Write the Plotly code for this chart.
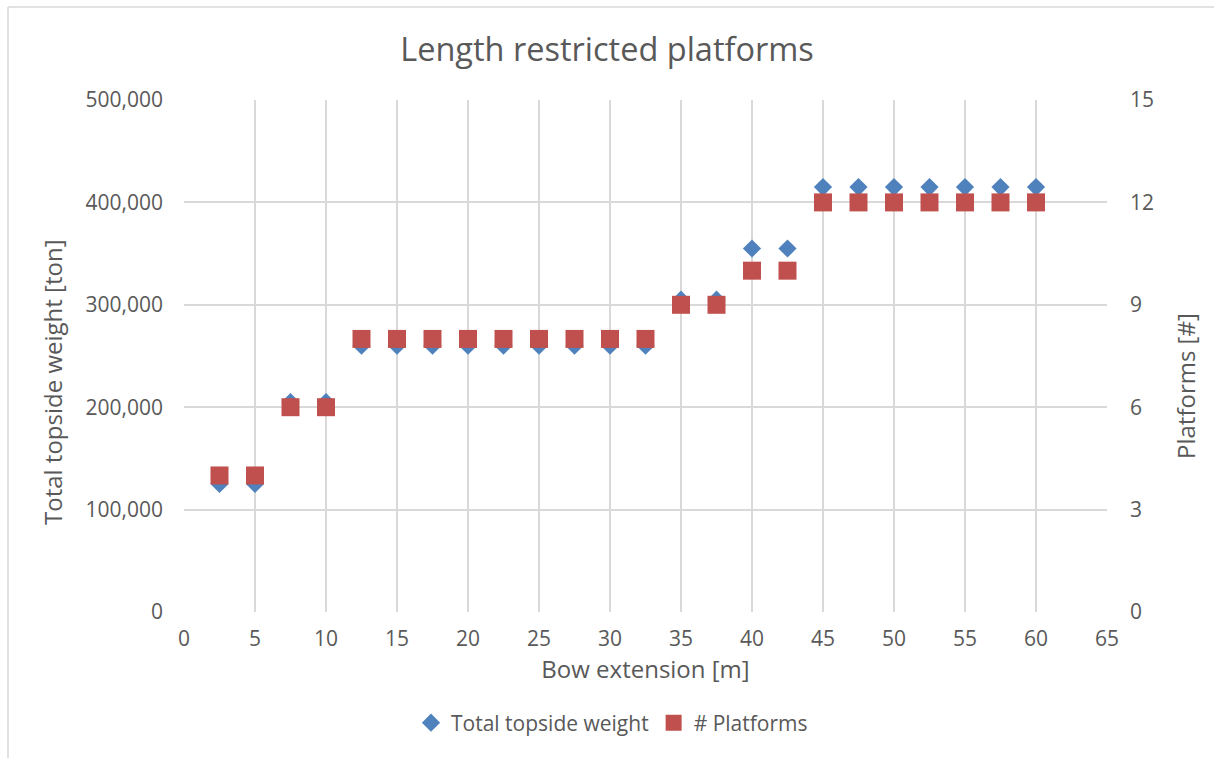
import plotly.graph_objects as go

# Bow extension [m]
bow_extension = [2.5, 5, 7.5, 10, 12.5, 15, 17.5, 20, 22.5, 25, 27.5, 30,
                 32.5, 35, 37.5, 40, 42.5, 45, 47.5, 50, 52.5, 55, 57.5, 60]
# Total topside weight [ton]
topside_weight = [125000, 125000, 205000, 205000,
                  260000, 260000, 260000, 260000, 260000, 260000, 260000, 260000, 260000,
                  305000, 305000, 355000, 355000,
                  415000, 415000, 415000, 415000, 415000, 415000, 415000]
# Number of platforms
platforms = [4, 4, 6, 6,
             8, 8, 8, 8, 8, 8, 8, 8, 8,
             9, 9, 10, 10,
             12, 12, 12, 12, 12, 12, 12]

FONT = "Open Sans"
TXT = "#595959"
GRID = "#d9d9d9"

fig = go.Figure()
fig.add_trace(go.Scatter(
    x=bow_extension, y=topside_weight, mode="markers", name="Total topside weight",
    marker=dict(symbol="diamond", size=14, color="#4F81BD"), yaxis="y"))
fig.add_trace(go.Scatter(
    x=bow_extension, y=platforms, mode="markers", name="# Platforms",
    marker=dict(symbol="square", size=18, color="#C0504D"), yaxis="y2"))

# plot area spans x 184..1107, y 100..612 in pixels
def px_x(p):
    return (p - 184) / 923

def px_y(p):
    return (612 - p) / 512

fig.update_layout(
    width=1214, height=758,
    paper_bgcolor="white", plot_bgcolor="white",
    margin=dict(l=184, r=107, t=100, b=146),
    font=dict(family=FONT, color=TXT, size=21),
    title=dict(text="Length restricted platforms", x=0.5, xanchor="center",
               y=1 - 50 / 758, yanchor="middle",
               font=dict(family=FONT, size=32.5, color=TXT)),
    xaxis=dict(range=[0, 65], dtick=5, tick0=0, showgrid=True, gridcolor=GRID, gridwidth=2,
               zeroline=False, showline=False, ticks="", ticklabelstandoff=12,
               tickfont=dict(size=21, color=TXT),
               title=dict(text="Bow extension [m]", font=dict(size=24, color=TXT), standoff=9)),
    yaxis=dict(range=[0, 500000], dtick=100000, tickformat=",", showgrid=True,
               gridcolor=GRID, gridwidth=2, zeroline=False, showline=False, ticks="",
               ticklabelstandoff=20, tickfont=dict(size=21, color=TXT)),
    yaxis2=dict(range=[0, 15], dtick=3, overlaying="y", side="right", showgrid=False,
                zeroline=False, showline=False, ticks="", ticklabelstandoff=22,
                tickfont=dict(size=21, color=TXT)),
    legend=dict(orientation="h", x=px_x(411), xanchor="left", y=px_y(723), yanchor="middle",
                font=dict(size=21, color=TXT), itemwidth=30, tracegroupgap=0),
    showlegend=True,
    annotations=[
        dict(text="Total topside weight [ton]", textangle=-90, showarrow=False,
             xref="paper", yref="paper", x=px_x(52), y=px_y(382),
             xanchor="center", yanchor="middle", font=dict(size=24, color=TXT)),
        dict(text="Platforms [#]", textangle=-90, showarrow=False,
             xref="paper", yref="paper", x=px_x(1185), y=px_y(386),
             xanchor="center", yanchor="middle", font=dict(size=24, color=TXT)),
    ],
    shapes=[
        dict(type="line", xref="paper", yref="paper",
             x0=px_x(8), x1=px_x(8), y0=px_y(758), y1=px_y(7),
             line=dict(color=GRID, width=1.5)),
        dict(type="line", xref="paper", yref="paper",
             x0=px_x(8), x1=px_x(1214), y0=px_y(7), y1=px_y(7),
             line=dict(color=GRID, width=1.5)),
    ],
)

fig.write_html("out.html")
